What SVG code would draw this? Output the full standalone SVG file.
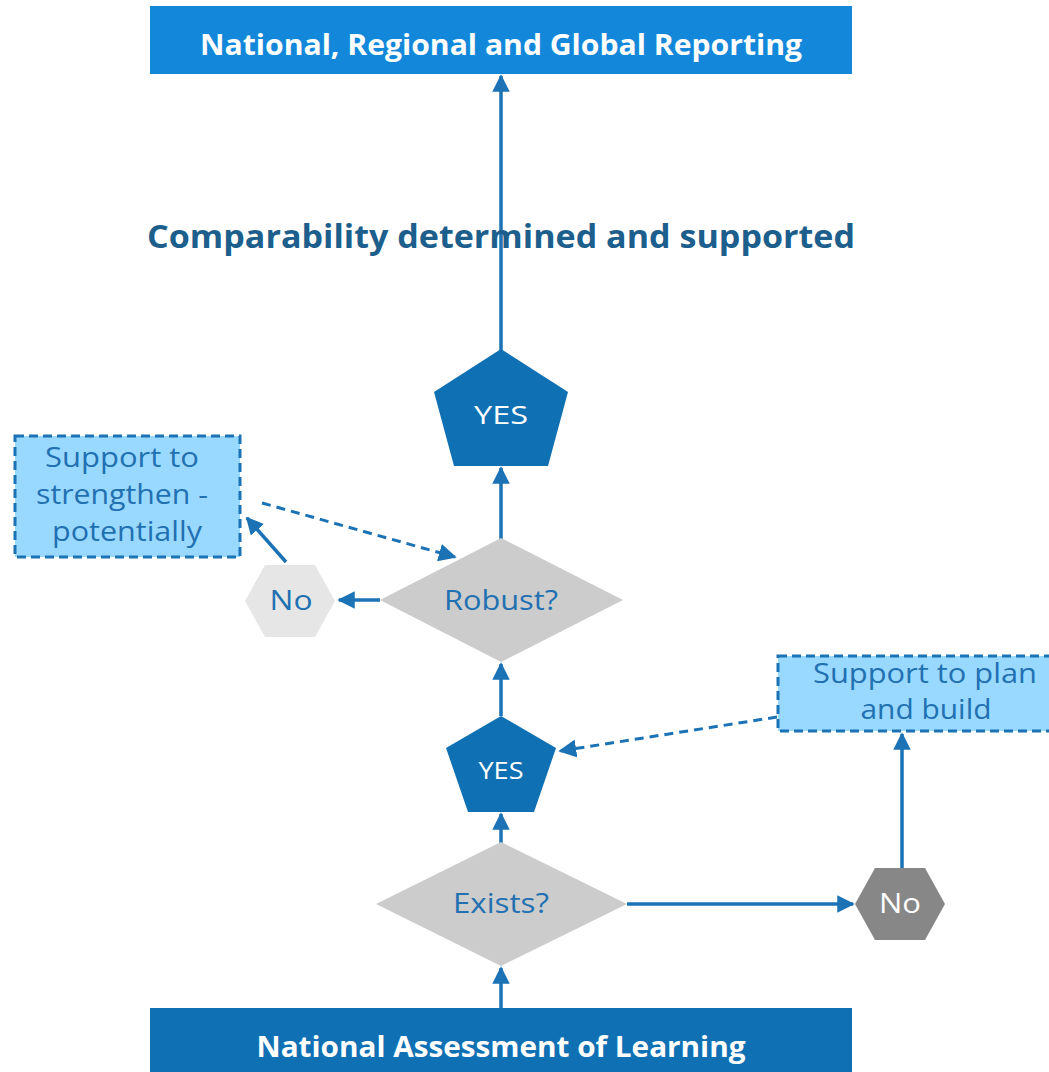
<svg xmlns="http://www.w3.org/2000/svg" width="1049" height="1072" viewBox="0 0 1049 1072">
<style>
.t{font-family:"Open Sans","Liberation Sans",sans-serif;text-anchor:middle;dominant-baseline:central}
.hdr{font-size:29px;font-weight:bold;fill:#fff}
.lbl{font-size:28px;fill:#2170b2}
.wl{font-size:26px;fill:#fff}
.ln{stroke:#1b72b5;stroke-width:3.5;fill:none}
.ds{stroke:#1b72b5;stroke-width:3;fill:none;stroke-dasharray:9 6}
.sup{fill:#99d9ff;stroke:#1b72b5;stroke-width:3;stroke-dasharray:9 5}
</style>
<defs>
<marker id="ah" viewBox="0 0 10 10" refX="9" refY="5" markerWidth="5" markerHeight="5" markerUnits="strokeWidth" orient="auto"><path d="M0,0L10,5L0,10z" fill="#1b72b5"/></marker>
<marker id="ahd" viewBox="0 0 10 10" refX="9" refY="5" markerWidth="6" markerHeight="6" markerUnits="strokeWidth" orient="auto"><path d="M0,0L10,5L0,10z" fill="#1b72b5"/></marker>
</defs>
<rect width="1049" height="1072" fill="#fff"/>
<g id="connectors">
<line class="ln" x1="501" y1="350" x2="501" y2="76" marker-end="url(#ah)"/>
<line class="ln" x1="501" y1="540" x2="501" y2="468" marker-end="url(#ah)"/>
<line class="ln" x1="380" y1="600" x2="339" y2="600" marker-end="url(#ah)"/>
<line class="ln" x1="286" y1="562" x2="247" y2="518" marker-end="url(#ah)"/>
<line class="ds" x1="262" y1="503" x2="455" y2="557" marker-end="url(#ahd)"/>
<line class="ln" x1="501" y1="716" x2="501" y2="664" marker-end="url(#ah)"/>
<line class="ln" x1="501" y1="843" x2="501" y2="814" marker-end="url(#ah)"/>
<line class="ln" x1="627" y1="904" x2="853" y2="904" marker-end="url(#ah)"/>
<line class="ln" x1="902" y1="868" x2="902" y2="734" marker-end="url(#ah)"/>
<line class="ds" x1="777" y1="717" x2="560" y2="751" marker-end="url(#ahd)"/>
<line class="ln" x1="501" y1="1008" x2="501" y2="968" marker-end="url(#ah)"/>
</g>
<g id="top-box">
<rect x="150" y="6" width="702" height="68" fill="#1388da"/>
<text class="t hdr" x="501" y="43" textLength="602" lengthAdjust="spacingAndGlyphs">National, Regional and Global Reporting</text>
</g>
<g id="comparability-label">
<text class="t" x="501" y="235" textLength="708" lengthAdjust="spacingAndGlyphs" style="font-size:32px;font-weight:bold;fill:#1c5e8c">Comparability determined and supported</text>
</g>
<g id="yes-large">
<polygon points="501,349 568,392 548,466 454,466 434,392" fill="#1070b4"/>
<text class="t wl" x="501" y="414" textLength="54" lengthAdjust="spacingAndGlyphs">YES</text>
</g>
<g id="robust">
<polygon points="501,538 623,600 501,662 380,600" fill="#cccccc"/>
<text class="t lbl" x="501" y="599" textLength="114" lengthAdjust="spacingAndGlyphs">Robust?</text>
</g>
<g id="no-left">
<polygon points="245,601 265,565 315,565 335,601 315,637 265,637" fill="#e6e6e6"/>
<text class="t lbl" x="291" y="599" textLength="43" lengthAdjust="spacingAndGlyphs">No</text>
</g>
<g id="support-strengthen">
<rect class="sup" x="15" y="436" width="225" height="121"/>
<text class="t lbl" x="122" y="456" textLength="154" lengthAdjust="spacingAndGlyphs">Support to</text>
<text class="t lbl" x="122" y="493" textLength="172" lengthAdjust="spacingAndGlyphs">strengthen -</text>
<text class="t lbl" x="127" y="530" textLength="150" lengthAdjust="spacingAndGlyphs">potentially</text>
</g>
<g id="yes-small">
<polygon points="501,716 556,748 534,812 468,812 446,748" fill="#1070b4"/>
<text class="t wl" x="501" y="770" textLength="45" lengthAdjust="spacingAndGlyphs" style="font-size:23px">YES</text>
</g>
<g id="exists">
<polygon points="501,842 627,904 501,966 376,904" fill="#cccccc"/>
<text class="t lbl" x="501" y="902" textLength="96" lengthAdjust="spacingAndGlyphs">Exists?</text>
</g>
<g id="no-right">
<polygon points="855,904 875,868 925,868 945,904 925,940 875,940" fill="#878787"/>
<text class="t wl" x="900" y="902" textLength="42" lengthAdjust="spacingAndGlyphs" style="font-size:28px">No</text>
</g>
<g id="support-plan">
<rect class="sup" x="778" y="656" width="276" height="75"/>
<text class="t lbl" x="925" y="672" textLength="224" lengthAdjust="spacingAndGlyphs">Support to plan</text>
<text class="t lbl" x="926" y="708" textLength="131" lengthAdjust="spacingAndGlyphs">and build</text>
</g>
<g id="bottom-box">
<rect x="150" y="1008" width="702" height="70" fill="#1070b4"/>
<text class="t hdr" x="501" y="1045" textLength="489" lengthAdjust="spacingAndGlyphs">National Assessment of Learning</text>
</g>
</svg>
